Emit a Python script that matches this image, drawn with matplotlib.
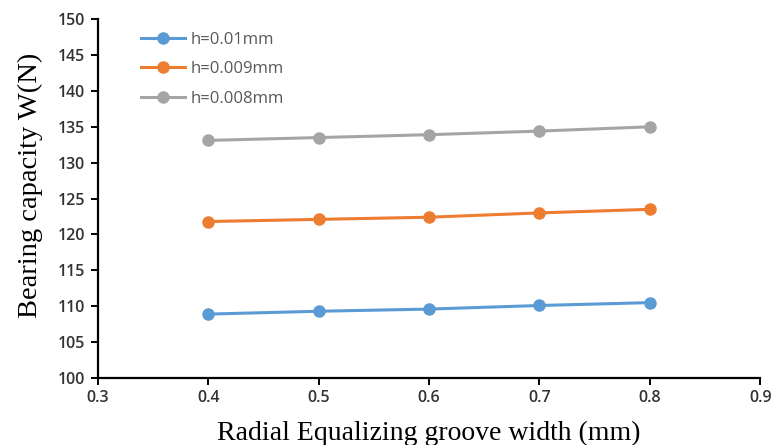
import numpy as np
import matplotlib.pyplot as plt

width = [0.4, 0.5, 0.6, 0.7, 0.8]
w_001 = [108.9, 109.3, 109.6, 110.1, 110.5]
w_0009 = [121.8, 122.1, 122.4, 123.0, 123.5]
w_0008 = [133.1, 133.5, 133.9, 134.4, 135.0]
labels = ['h=0.01mm', 'h=0.009mm', 'h=0.008mm']
colors = ['#5b9bd5', '#ed7d31', '#a5a5a5']

fig = plt.figure(figsize=(7.71, 4.45), dpi=100)
ax = fig.add_axes([0.127, 0.1506, 0.859, 0.8064])

for y, l, c in zip([w_001, w_0009, w_0008], labels, colors):
	ax.plot(width, y, '-o', color=c, lw=2.2, ms=8, label=l)

ax.set_xlim(0.3, 0.9)
ax.set_ylim(100, 150)
ax.set_xticks(np.arange(0.3, 0.91, 0.1))
ax.set_yticks(np.arange(100, 151, 5))
ax.set_xticklabels(['0.3', '0.4', '0.5', '0.6', '0.7', '0.8', '0.9'])
for s in ['top', 'right']:
	ax.spines[s].set_visible(False)
for s in ['left', 'bottom']:
	ax.spines[s].set_linewidth(1.6)
ax.tick_params(axis='both', direction='out', length=5, width=1.4, labelsize=11.5,
	labelcolor='#333333', pad=4)
for t in ax.get_xticklabels() + ax.get_yticklabels():
	t.set_family('Open Sans')
	t.set_fontweight('semibold')

ax.set_xlabel('Radial Equalizing groove width (mm)', family='Liberation Serif', fontsize=20, labelpad=10)
ax.set_ylabel('Bearing capacity W(N)', family='Liberation Serif', fontsize=20.5)
ax.yaxis.set_label_coords(-0.083, 0.538)

leg = ax.legend(loc='upper left', bbox_to_anchor=(0.043, 1.006), frameon=False,
	prop={'family': 'Open Sans', 'size': 12}, handlelength=2.6, handletextpad=0.35,
	labelspacing=0.8)
for t in leg.get_texts():
	t.set_color('#595959')

fig.savefig('out.png')
